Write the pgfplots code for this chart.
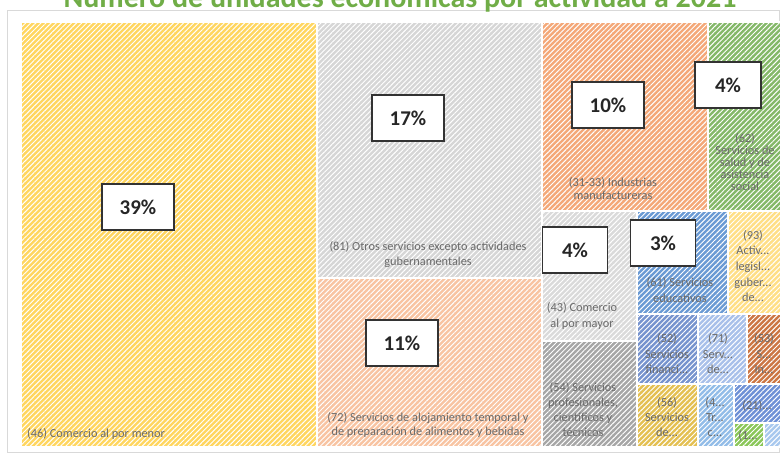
\documentclass[border=0pt]{standalone}
\usepackage{pgfplots}
\pgfplotsset{compat=1.18}
\usepackage{fontspec}
\setmainfont{Carlito}
\usetikzlibrary{patterns.meta}
\definecolor{cA}{HTML}{FFD65F}
\definecolor{cB}{HTML}{D6D6D6}
\definecolor{cC}{HTML}{F8C4A2}
\definecolor{cD}{HTML}{F4A878}
\definecolor{cE}{HTML}{84B868}
\definecolor{cF}{HTML}{DADADA}
\definecolor{cG}{HTML}{A6A6A6}
\definecolor{cH}{HTML}{6A9AD4}
\definecolor{cI}{HTML}{FFDF86}
\definecolor{cJ}{HTML}{7693CE}
\definecolor{cK}{HTML}{A8C0EA}
\definecolor{cL}{HTML}{CC7644}
\definecolor{cM}{HTML}{E4C052}
\definecolor{cN}{HTML}{92BCE8}
\definecolor{cO}{HTML}{6E90D6}
\definecolor{cP}{HTML}{8AC758}
\definecolor{cQ}{HTML}{A8C8EE}
\definecolor{titlegreen}{HTML}{70AD47}
\definecolor{labgray}{HTML}{6A6A6A}
\newcommand{\rect}[5]{\addplot[fill=#5, draw=white, line width=1.4pt,
  postaction={pattern={Lines[angle=45,distance=3.6pt,line width=0.95pt]}, pattern color=white, fill opacity=0.42}]
  coordinates {(#1,#2) (#3,#2) (#3,#4) (#1,#4)} -- cycle;}
\begin{document}
\begin{tikzpicture}[x=1pt,y=1pt,
  lab/.style={font=\fontsize{12.3}{14.5}\selectfont, text=labgray, align=center, inner sep=0pt},
  pct/.style={draw=black!80, line width=1.4pt, fill=white, minimum width=72pt, minimum height=46pt,
    font=\fontsize{21}{21}\selectfont\bfseries, text=black!85}]
\clip (0,0) rectangle (780,456);
\begin{axis}[at={(0,0)}, anchor=south west, width=780pt, height=456pt, scale only axis,
  xmin=0, xmax=780, ymin=0, ymax=456, y dir=reverse, hide axis, clip=false]
\draw[draw=black!15, line width=1pt] (axis cs:7,10) rectangle (axis cs:779,452);
\node[anchor=base, text=titlegreen, font=\fontsize{30}{30}\selectfont\bfseries] at (axis cs:400,7) {Número de unidades económicas por actividad a 2021};
% rectangles (x1, y1, x2, y2 in pixel units, y down)
\rect{21}{22}{317}{447}{cA}
\rect{317}{22}{542}{278}{cB}
\rect{317}{278}{542}{447}{cC}
\rect{542}{22}{708}{211}{cD}
\rect{708}{22}{781}{211}{cE}
\rect{542}{211}{637}{341}{cF}
\rect{542}{341}{637}{447}{cG}
\rect{637}{211}{728}{314}{cH}
\rect{728}{211}{781}{314}{cI}
\rect{637}{314}{698}{384}{cJ}
\rect{698}{314}{747}{384}{cK}
\rect{747}{314}{781}{384}{cL}
\rect{637}{384}{698}{447}{cM}
\rect{698}{384}{734}{447}{cN}
\rect{734}{384}{781}{423}{cO}
\rect{734}{423}{764}{447}{cP}
\rect{764}{423}{781}{447}{cQ}
% category labels
\node[lab, anchor=base west] at (axis cs:27,437) {(46) Comercio al por menor};
\node[lab, font=\fontsize{12.3}{15}\selectfont] at (axis cs:428,255) {(81) Otros servicios excepto actividades\\gubernamentales};
\node[lab, font=\fontsize{12.3}{14.5}\selectfont] at (axis cs:428,425) {(72) Servicios de alojamiento temporal y\\de preparación de alimentos y bebidas};
\node[lab, font=\fontsize{12.3}{13}\selectfont] at (axis cs:613,189) {(31-33) Industrias\\manufactureras};
\node[lab, font=\fontsize{12.3}{12}\selectfont] at (axis cs:745,162) {(62)\\Servicios de\\salud y de\\asistencia\\social};
\node[lab, font=\fontsize{12.3}{16.5}\selectfont] at (axis cs:582,316) {(43) Comercio\\al por mayor};
\node[lab, font=\fontsize{12.3}{15}\selectfont] at (axis cs:583,410) {(54) Servicios\\profesionales,\\científicos y\\técnicos};
\node[lab, font=\fontsize{12.3}{16}\selectfont] at (axis cs:680,290) {(61) Servicios\\educativos};
\node[lab, font=\fontsize{12.3}{15.7}\selectfont] at (axis cs:753,266) {(93)\\Activ...\\legisl...\\guber...\\de...};
\node[lab, font=\fontsize{12.3}{15.5}\selectfont] at (axis cs:667,354) {(52)\\Servicios\\financi...};
\node[lab, font=\fontsize{12.3}{15.5}\selectfont] at (axis cs:718,354) {(71)\\Serv...\\de...};
\node[lab, font=\fontsize{12.3}{15.5}\selectfont] at (axis cs:764,354) {(53)\\S...\\In...};
\node[lab, font=\fontsize{12.3}{15}\selectfont] at (axis cs:667,417) {(56)\\Servicios\\de...};
\node[lab, font=\fontsize{12.3}{15}\selectfont] at (axis cs:715,417) {(4...\\Tr...\\c...};
\node[lab] at (axis cs:757,406) {(21)...};
\node[lab] at (axis cs:748,436) {(1...};
% percentage boxes
\node[pct] at (axis cs:138,207) {39\%};
\node[pct] at (axis cs:408,118) {17\%};
\node[pct] at (axis cs:402,343) {11\%};
\node[pct] at (axis cs:608,105) {10\%};
\node[pct, minimum width=66pt] at (axis cs:728,85) {4\%};
\node[pct, minimum width=65pt] at (axis cs:575,250) {4\%};
\node[pct, minimum width=65pt] at (axis cs:663,243) {3\%};
\end{axis}
\end{tikzpicture}
\end{document}
